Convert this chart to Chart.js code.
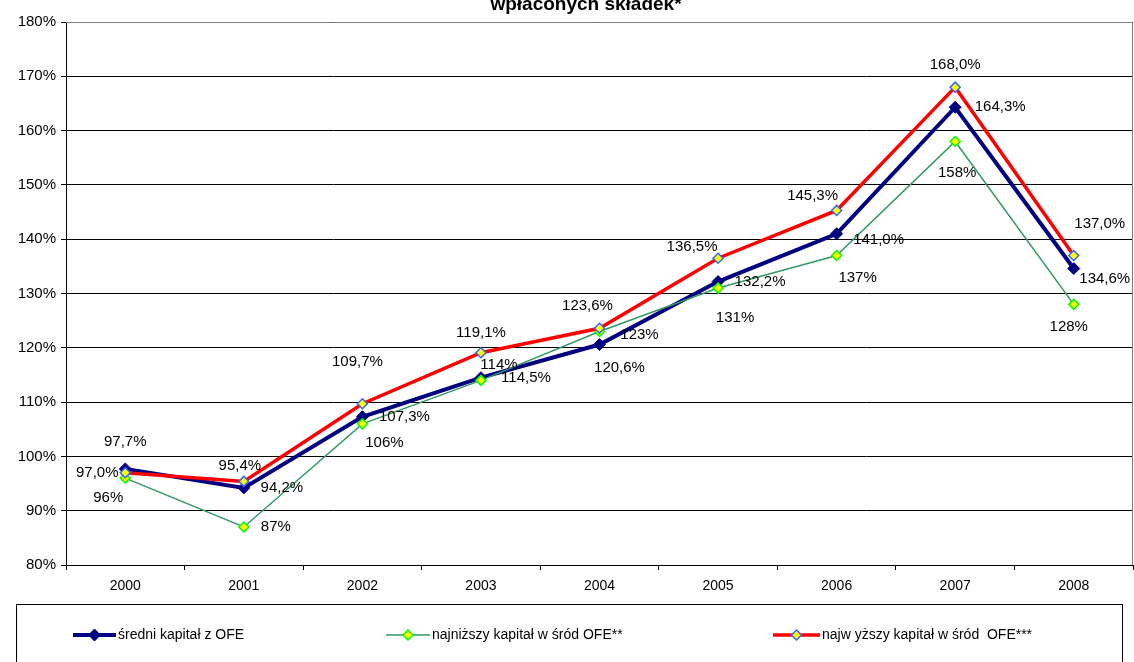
<!DOCTYPE html>
<html>
<head>
<meta charset="utf-8">
<script src="https://cdn.jsdelivr.net/npm/chart.js@4.4.1/dist/chart.umd.min.js"></script>
<style>
  html, body { margin: 0; padding: 0; background: #fff; }
  #wrap { width: 1134px; height: 662px; }
</style>
</head>
<body>
<div id="wrap"><canvas id="ofeChart" width="1134" height="662"></canvas></div>
<script>
// data
let years = ["2000", "2001", "2002", "2003", "2004", "2005", "2006", "2007", "2008"];
let sredni = [97.7, 94.2, 107.3, 114.5, 120.6, 132.2, 141.0, 164.3, 134.6];
let najnizszy = [96, 87, 106, 114, 123, 131, 137, 158, 128];
let najwyzszy = [97.0, 95.4, 109.7, 119.1, 123.6, 136.5, 145.3, 168.0, 137.0];
let seriesNames = ["średni kapitał z OFE", "najniższy kapitał w śród OFE**", "najw yższy kapitał w śród  OFE***"];
let titleText = "wpłaconych składek*";

// where each value label sits relative to its point (copied by eye from the original)
let labelOffsets = [
    [[0, -27], [38, 0], [42, 0], [45, 0], [20, 23], [42, 0], [42, 6], [45, 0], [31, 10]],
    [[-17, 20], [32, 0], [22, 19], [18, -16], [40, 3], [17, 30], [21, 22], [2, 31], [-5, 22]],
    [[-28, 0], [-4, -16], [-5, -42], [0, -20], [-12, -22], [-26, -11], [-24, -15], [0, -22], [26, -32]]
];
let labelDecimals = [1, 0, 1];

const FONT = "'Liberation Sans', Arial, sans-serif";

function fmt(v, d) {
    return v.toFixed(d).replace('.', ',') + '%';
}

const valueLabels = {
    id: 'valueLabels',
    afterDatasetsDraw(chart) {
        let ctx = chart.ctx;
        ctx.save();
        ctx.font = '15px ' + FONT;
        ctx.fillStyle = '#000';
        ctx.textAlign = 'center';
        ctx.textBaseline = 'middle';
        chart.data.datasets.forEach((ds, i) => {
            let meta = chart.getDatasetMeta(i);
            meta.data.forEach((pt, j) => {
                let off = labelOffsets[i][j];
                ctx.fillText(fmt(ds.data[j], labelDecimals[i]), pt.x + off[0], pt.y + off[1]);
            });
        });
        ctx.restore();
    }
};

const frameAndLegend = {
    id: 'frameAndLegend',
    afterDraw(chart) {
        let ctx = chart.ctx;
        let a = chart.chartArea;
        ctx.save();
        // cut-off title line
        ctx.font = 'bold 19px ' + FONT;
        ctx.fillStyle = '#000';
        ctx.textAlign = 'center';
        ctx.textBaseline = 'alphabetic';
        ctx.fillText(titleText, 586, 10);
        // plot area border right + top
        ctx.strokeStyle = '#808080';
        ctx.lineWidth = 1;
        ctx.beginPath();
        ctx.moveTo(a.left, a.top + 0.5);
        ctx.lineTo(a.right - 0.5, a.top + 0.5);
        ctx.lineTo(a.right - 0.5, a.bottom);
        ctx.stroke();
        // legend box
        ctx.strokeStyle = '#000';
        ctx.strokeRect(16.5, 604.5, 1106, 80);
        let items = [[73, 118], [386, 432], [773, 822]];
        let cy = 635;
        ctx.font = '14px ' + FONT;
        ctx.textBaseline = 'middle';
        ctx.textAlign = 'left';
        chart.data.datasets.forEach((ds, i) => {
            let x0 = items[i][0];
            let x1 = items[i][1] - 2;
            ctx.strokeStyle = ds.borderColor;
            ctx.lineWidth = ds.borderWidth;
            ctx.beginPath();
            ctx.moveTo(x0, cy);
            ctx.lineTo(x1, cy);
            ctx.stroke();
            let mx = (x0 + x1) / 2;
            let r = ds.pointRadius;
            ctx.fillStyle = ds.pointBackgroundColor;
            ctx.strokeStyle = ds.pointBorderColor;
            ctx.lineWidth = ds.pointBorderWidth;
            ctx.beginPath();
            ctx.moveTo(mx, cy - r);
            ctx.lineTo(mx + r, cy);
            ctx.lineTo(mx, cy + r);
            ctx.lineTo(mx - r, cy);
            ctx.closePath();
            ctx.fill();
            ctx.stroke();
            ctx.fillStyle = '#000';
            ctx.fillText(ds.label, items[i][1], cy);
        });
        ctx.restore();
    }
};

function manageOfeChart() {
    let ctxL = document.getElementById("ofeChart").getContext('2d');
    let myLineChart = new Chart(ctxL, {
        type: 'line',
        data: {
            labels: years,
            datasets: [{
                label: seriesNames[0],
                data: sredni,
                borderColor: "#000080",
                borderWidth: 4,
                pointStyle: 'rectRot',
                pointRadius: 6,
                pointBackgroundColor: "#000080",
                pointBorderColor: "#000080",
                pointBorderWidth: 1,
                order: 2
            }, {
                label: seriesNames[1],
                data: najnizszy,
                borderColor: "#339966",
                borderWidth: 1.5,
                pointStyle: 'rectRot',
                pointRadius: 5,
                pointBackgroundColor: "#ffff00",
                pointBorderColor: "#00ff00",
                pointBorderWidth: 1.5,
                order: 1
            }, {
                label: seriesNames[2],
                data: najwyzszy,
                borderColor: "#ff0000",
                borderWidth: 3.5,
                pointStyle: 'rectRot',
                pointRadius: 5,
                pointBackgroundColor: "#ffff00",
                pointBorderColor: "#3366ff",
                pointBorderWidth: 1.5,
                order: 0
            }]
        },
        options: {
            responsive: false,
            animation: false,
            layout: { autoPadding: false, padding: { top: 22, right: 1, left: 0, bottom: 0 } },
            plugins: {
                legend: { display: false },
                title: { display: false },
                tooltip: { enabled: false }
            },
            elements: { line: { tension: 0 } },
            scales: {
                x: {
                    offset: true,
                    afterFit: function(scale) {
                        scale.height = 97;
                        scale.paddingLeft = 0;
                        scale.paddingRight = 0;
                    },
                    grid: { display: true, drawOnChartArea: false, offset: true, color: '#000', tickLength: 5 },
                    border: { color: '#000', width: 1 },
                    ticks: { color: '#000', font: { family: FONT, size: 14 }, padding: 8, maxRotation: 0 }
                },
                y: {
                    min: 80,
                    max: 180,
                    afterFit: function(scale) {
                        scale.width = 66;
                    },
                    grid: { color: '#000', tickLength: 5 },
                    border: { color: '#000', width: 1 },
                    ticks: {
                        stepSize: 10,
                        color: '#000',
                        font: { family: FONT, size: 15 },
                        padding: 5,
                        callback: function(v) { return v + '%'; }
                    }
                }
            }
        },
        plugins: [valueLabels, frameAndLegend]
    });
}

manageOfeChart();
</script>
</body>
</html>
